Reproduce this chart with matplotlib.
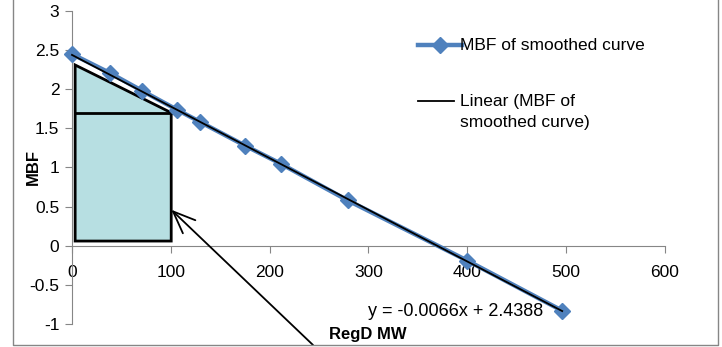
import matplotlib.pyplot as plt
from matplotlib.patches import Polygon
from matplotlib.lines import Line2D

plt.rcParams['font.family'] = ['Liberation Sans', 'DejaVu Sans']

# MBF of the smoothed curve vs RegD MW
regd_mw = [0, 38, 71, 106, 130, 175, 211, 279, 400, 496]
mbf = [2.45, 2.21, 1.98, 1.74, 1.58, 1.28, 1.05, 0.58, -0.19, -0.83]

# linear trendline
slope = -0.0066
intercept = 2.4388
trend_x = [0, 496]
trend_y = [slope * x + intercept for x in trend_x]

# shaded area under the curve up to 100 MW
area_x = [3.2, 40, 100.4, 100.4, 3.2]
area_y = [2.31, 2.08, 1.70, 0.06, 0.06]
split_y = 1.70

xticks = [0, 100, 200, 300, 400, 500, 600]
yticks = [-1, -0.5, 0, 0.5, 1, 1.5, 2, 2.5, 3]
ytick_labels = ["-1", "-0.5", "0", "0.5", "1", "1.5", "2", "2.5", "3"]

grey = "#868686"
blue = "#4F81BD"

fig = plt.figure(figsize=(7.22, 3.47), dpi=100)
ax = fig.add_axes([0.0997, 0.0663, 0.8213, 0.902])

ax.set_xlim(0, 600)
ax.set_ylim(-1, 3)

# shaded block with the cut line
ax.add_patch(Polygon(list(zip(area_x, area_y)), closed=True,
                     facecolor="#B7DFE2", edgecolor="k", lw=2, zorder=2))
ax.plot([area_x[0], area_x[2]], [split_y, split_y], color="k", lw=2, zorder=3)

# data series and fitted line
ax.plot(regd_mw, mbf, color=blue, lw=3.2, marker="D", ms=8.5,
        clip_on=False, zorder=4)
ax.plot(trend_x, trend_y, color="k", lw=1.3, clip_on=False, zorder=5)

# axes styling
for side in ["top", "right"]:
    ax.spines[side].set_visible(False)
ax.spines["bottom"].set_position(("data", 0))
ax.spines["bottom"].set_color(grey)
ax.spines["left"].set_color(grey)
ax.set_xticks(xticks)
ax.set_yticks(yticks)
ax.set_yticklabels(ytick_labels)
ax.tick_params(axis="both", colors=grey, length=5, labelcolor="k",
               labelsize=12.5)
ax.tick_params(axis="x", pad=9)
ax.tick_params(axis="y", pad=4)

ax.set_ylabel("MBF", fontweight="bold", fontsize=12)
ax.yaxis.set_label_coords(-0.052, 0.5)
fig.text(368 / 722, 1 - 334 / 347, "RegD MW", fontweight="bold",
         fontsize=12, ha="center", va="center")
ax.text(388, -0.84, "y = -0.0066x + 2.4388", fontsize=13,
        ha="center", va="center")

# legend entries
ax.add_artist(Line2D([0.583, 0.620, 0.657], [0.891, 0.891, 0.891],
                     transform=ax.transAxes, color=blue, lw=3.2, marker="D",
                     ms=8.5, markevery=[1], clip_on=False))
ax.text(0.655, 0.891, "MBF of smoothed curve", transform=ax.transAxes,
        fontsize=12.5, ha="left", va="center")
ax.add_artist(Line2D([0.583, 0.645], [0.712, 0.712], transform=ax.transAxes,
                     color="k", lw=1.3, clip_on=False))
ax.text(0.655, 0.676, "Linear (MBF of\nsmoothed curve)",
        transform=ax.transAxes, fontsize=12.5, ha="left", va="center",
        linespacing=1.5)

# pointer to the shaded block
ax.annotate("", xy=(100.5, 0.46), xycoords="data",
            xytext=(313, 2), textcoords="figure pixels",
            arrowprops=dict(arrowstyle="->,head_length=1.6,head_width=0.65",
                            color="k", lw=1.3, shrinkA=0, shrinkB=0))

# chart frame
fig.add_artist(Line2D([13 / 722, 13 / 722, 718 / 722, 718 / 722],
                      [1.0, 2 / 347, 2 / 347, 1.0],
                      transform=fig.transFigure, color=grey, lw=1))

fig.savefig("out.png", dpi=100)
